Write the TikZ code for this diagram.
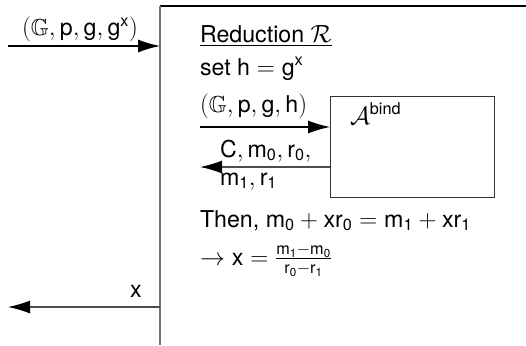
\documentclass[tikz,border=0pt]{standalone}
\usepackage{amsmath,amssymb}
\usepackage{fontspec}
\setmainfont{TeX Gyre Heros}
\setsansfont{TeX Gyre Heros}
\usetikzlibrary{arrows.meta}
\newcommand{\sv}[1]{\mathsf{#1}}
\begin{document}
\begin{tikzpicture}[x=1pt,y=-1pt,
  font=\fontsize{23.2}{28}\selectfont,
  arr/.style={-{Latex[length=22pt,width=13pt,color=black]}, line width=1.1pt},
  txt/.style={anchor=base west, inner sep=0pt, outer sep=0pt},
  boxline/.style={line width=1.3pt, draw=black!55}]
\useasboundingbox (0,0) rectangle (526,345);
% reduction frame
\coordinate (tl) at (160,6);
\coordinate (tr) at (526,6);
\coordinate (bl) at (160,345);
\draw[line width=1.3pt] (tl) -- (tr);
\draw[boxline] (tl) -- (bl);
% input
\coordinate (in0) at (8,46);
\draw[arr] (in0) -- (tl |- in0);
\node[anchor=base, inner sep=0pt] (inlbl) at (80,36) {$(\mathbb{G},\sv{p},\sv{g},\sv{g}^{\sv{x}})$};
% output
\coordinate (out0) at (8,307);
\draw[arr, draw=black!70] (tl |- out0) -- (out0);
\node[anchor=base, inner sep=0pt] (outlbl) at (136,297) {$\sv{x}$};
% title
\node[txt] (title) at (200,42) {\underline{Reduction $\mathcal{R}$}};
\node[txt] (seth) at (200,75) {set $\sv{h}=\sv{g}^{\sv{x}}$};
% adversary box
\node[draw=black!80, line width=1pt, minimum width=164pt, minimum height=101pt, anchor=north west, inner sep=0pt] (adv) at (330,96) {};
\node[txt] (advlbl) at (350,124) {$\mathcal{A}^{\sv{bind}}$};
% arrows to/from adversary
\coordinate (a1) at (200,127);
\draw[arr] (a1) -- (adv.west |- a1);
\node[txt] (a1lbl) at (200,112) {$(\mathbb{G},\sv{p},\sv{g},\sv{h})$};
\coordinate (a2) at (200,167);
\draw[arr, draw=black!70] (adv.west |- a2) -- (a2);
\node[txt] (a2lbl) at (220,157) {$\sv{C},\sv{m}_{\sv{0}},\sv{r}_{\sv{0}},$};
\node[txt] (a2lblb) at (220,185) {$\sv{m}_{\sv{1}},\sv{r}_{\sv{1}}$};
% conclusion
\node[txt] (then) at (200,227) {Then, $\sv{m}_{\sv{0}}+\sv{x}\sv{r}_{\sv{0}}=\sv{m}_{\sv{1}}+\sv{x}\sv{r}_{\sv{1}}$};
\node[txt] (res) at (200,265) {$\rightarrow\sv{x}=\frac{\sv{m}_{\sv{1}}-\sv{m}_{\sv{0}}}{\sv{r}_{\sv{0}}-\sv{r}_{\sv{1}}}$};
\end{tikzpicture}
\end{document}
